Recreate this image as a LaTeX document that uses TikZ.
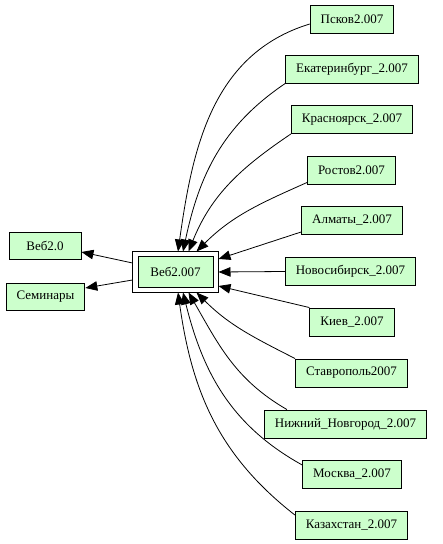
\documentclass[tikz,border=0pt]{standalone}
\usepackage{fontspec}
\setmainfont{Liberation Serif}
\usetikzlibrary{arrows.meta}
\definecolor{boxgreen}{HTML}{CCFFCC}

\begin{document}
\begin{tikzpicture}[x=1pt, y=1pt,
    city/.style={draw, line width=0.9pt, fill=boxgreen, inner xsep=10.5pt,
      minimum height=28pt, font=\fontsize{13}{15}\selectfont},
    hub/.style={city, minimum width=75pt, minimum height=31pt,
      outer xsep=5.5pt, outer ysep=5pt},
    link/.style={line width=0.8pt, -{Triangle[length=12pt, width=9.5pt]}}]
      \useasboundingbox (0,0) rectangle (443,544);
      %
      \node[hub] (web) at (175.5,272) {Веб2.007};                  % centre
      \draw[line width=0.9pt] (web.south west) rectangle (web.north east); % outer frame
      %
      \node[city, minimum height=27pt, minimum width=72pt] (web20) at (45,298.5) {Веб2.0}; % left
      \node[city, minimum height=27pt] (sem) at (45.5,247.5) {Семинары};
      %
      \node[city] (pskov)   at (352,525)   {Псков2.007};           % right, above
      \node[city] (ekat)    at (352,475)   {Екатеринбург\_2.007};
      \node[city] (kras)    at (352,424.5) {Красноярск\_2.007};
      \node[city] (rostov)  at (351.5,374) {Ростов2.007};
      \node[city] (almaty)  at (352,323.5) {Алматы\_2.007};
      \node[city] (novosib) at (350.5,272.5) {Новосибирск\_2.007}; % right, level
      \node[city] (kiev)    at (352,222)   {Киев\_2.007};          % right, below
      \node[city] (stavr)   at (351.5,171) {Ставрополь2007};
      \node[city] (nizhny)  at (345.5,120) {Нижний\_Новгород\_2.007};
      \node[city] (moskva)  at (352,70)    {Москва\_2.007};
      \node[city] (kaz)     at (351.5,19)  {Казахстан\_2.007};
      %
      \draw[link] ([yshift=9pt]web.west) -- ([yshift=-6.5pt]web20.east);   % out of centre
      \draw[link] ([yshift=-8pt]web.west) -- ([yshift=8.5pt]sem.east);
      %%
      \draw[link] ([yshift=-5pt]pskov.west) to[out=197, in=82] ([xshift=2.5pt]web.north); % into top
      \draw[link] (ekat.south west) to[out=214, in=78] ([xshift=7.5pt]web.north);
      \draw[link] (kras.south west) to[out=214, in=68] ([xshift=13pt]web.north);
      \draw[link] ([yshift=2pt]rostov.south west) to[out=204, in=45] ([xshift=21pt]web.north);
      %
      \draw[link] ([yshift=3pt]almaty.south west) -- ([yshift=13pt]web.east); % into side
      \draw[link] (novosib.west) -- (web.east);
      \draw[link] (kiev.north west) -- ([yshift=-14pt]web.east);
      %
      \draw[link] (stavr.north west) to[out=153, in=-45] ([xshift=21pt]web.south); % into bottom
      \draw[link] ([xshift=23pt]nizhny.north west) to[out=150, in=-60] ([xshift=13pt]web.south);
      \draw[link] ([yshift=9pt]moskva.west) to[out=151, in=-76] ([xshift=7.5pt]web.south);
      \draw[link] ([yshift=10pt]kaz.west) to[out=142, in=-82] ([xshift=2.5pt]web.south);
      %
\end{tikzpicture}
\end{document}
